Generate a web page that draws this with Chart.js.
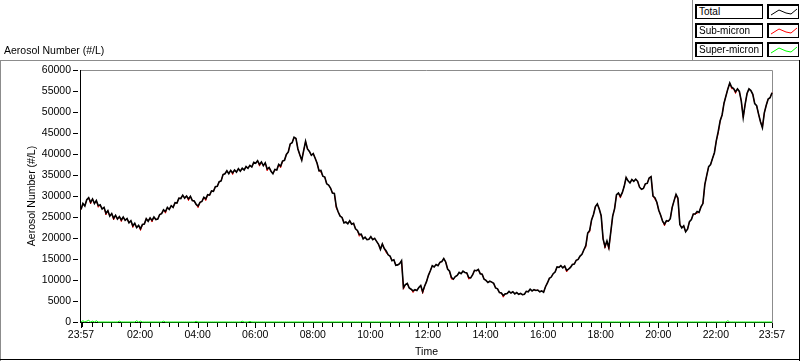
<!DOCTYPE html>
<html><head><meta charset="utf-8">
<script src="https://cdn.jsdelivr.net/npm/chart.js@4/dist/chart.umd.min.js"></script>
<style>
html,body{margin:0;padding:0;background:#fff;}
#wrap{position:relative;width:800px;height:361px;overflow:hidden;font-family:"Liberation Sans",Arial,sans-serif;font-size:10.5px;color:#000;}
#c{position:absolute;left:0;top:0;}
.ttl{position:absolute;left:4px;top:43px;line-height:14px;white-space:nowrap;}
.ln{position:absolute;}
.lt{position:absolute;left:695px;width:68px;height:15px;border:1px solid #000;box-shadow:inset 1px 1px 0 #000;box-sizing:border-box;background:#fff;padding-left:3px;line-height:13px;font-size:10px;white-space:nowrap;overflow:hidden;}
.ls{position:absolute;left:767px;width:32px;height:15px;border:1px solid #000;box-shadow:inset 1px 1px 0 #000;box-sizing:border-box;background:#fff;}
.ls svg{position:absolute;left:0;top:0;}
</style>
</head><body>
<div id="wrap">
<canvas id="c" width="800" height="361"></canvas>
<div class="ln" style="left:0;top:60px;width:800px;height:1px;background:#8c8c8c"></div>
<div class="ln" style="left:0;top:60px;width:1px;height:301px;background:#8c8c8c"></div>
<div class="ln" style="left:0;top:359px;width:800px;height:1px;background:#000"></div>
<div class="ln" style="left:799px;top:60px;width:1px;height:301px;background:#000"></div>
<div class="ln" style="left:692px;top:0;width:1px;height:61px;background:#8c8c8c"></div>
<div class="ttl">Aerosol Number (#/L)</div>
<div id="legend"></div>
</div>
<script>
const seriesNames = ['Total', 'Sub-micron', 'Super-micron'];
const seriesColors = ['#000000', '#ff0000', '#00ff00'];
const startClock = '23:57';
const stepMinutes = 4;
const xTickMinutes = [0, 123, 243, 363, 483, 603, 723, 843, 963, 1083, 1203, 1323, 1440];
const xTickLabels = ['23:57', '02:00', '04:00', '06:00', '08:00', '10:00', '12:00', '14:00', '16:00', '18:00', '20:00', '22:00', '23:57'];
const yTickValues = [0, 5000, 10000, 15000, 20000, 25000, 30000, 35000, 40000, 45000, 50000, 55000, 60000];

const total = [
26800,28200,27600,29100,29600,28500,29300,28200,28900,27700,
27900,26900,27300,25900,26500,25200,25800,24700,25400,24500,
25100,24300,25000,24200,24600,23600,24100,22900,23500,22500,
23000,22200,23200,23300,24600,24000,24800,24200,25000,24400,
24500,25600,25800,26700,26300,27300,26800,27700,27300,28400,
28300,29500,29400,30200,29500,30000,29300,29900,28900,28800,
28000,27600,28500,28700,29700,29300,30300,30200,31200,31100,
32200,32300,33400,33600,35100,35300,36000,35300,36100,35500,
36200,35700,36500,35900,36600,36200,37000,36600,37300,36900,
38000,37800,38400,37500,38100,37200,37900,36400,36800,35900,
35300,36300,36200,37500,37100,38300,38500,39900,40500,42400,
42700,44000,43700,41200,39800,38500,40800,43000,41200,40600,
39700,40100,39000,37800,36000,36100,34700,34500,32900,32600,
31900,30700,30600,27500,26200,25200,24900,23600,23800,23400,
24100,23300,23500,22200,21800,20800,20900,19800,20200,19600,
19700,20300,19600,19900,19200,18500,17300,18600,17500,16900,
16000,15700,14600,14800,13500,13600,13900,14600,8200,8900,
9200,8100,7800,7400,7700,7500,8200,8700,7200,8500,
9600,11100,12200,13400,13100,13700,13400,14200,14400,15100,
14300,12600,12100,10600,10200,10800,11100,11800,11500,12100,
11800,11700,10600,10500,11200,12300,12200,12500,11500,11400,
10200,9900,9400,9700,9500,9200,8100,7900,7000,6900,
6300,6700,6800,7300,6900,7200,6700,7000,6600,6800,
6500,6600,7300,7200,7800,7400,7700,7500,7600,7200,
7400,7100,8400,9300,10400,10700,11500,11900,13100,13000,
13400,12900,13300,12300,12600,13000,13700,13800,14700,14900,
15700,16100,17200,18200,21200,21800,24300,25600,27500,28100,
26900,25300,19800,18000,19300,17700,21400,25200,27000,30300,
30700,29900,30800,32300,34400,33600,33100,33900,33500,34000,
33500,32100,31600,31800,32900,33000,34300,34600,30000,29600,
28500,26600,25400,24000,23300,24100,24000,24600,27300,28900,
30400,29500,23200,22400,22900,21500,22100,23900,24400,25700,
25700,26300,26100,27400,28200,32700,34900,37000,37500,38900,
40300,43200,45400,47900,49300,52100,53800,55500,56900,55900,
55600,54800,55500,54900,52600,48700,51800,54400,55500,55100,
54200,52000,51500,49500,47700,46300,49800,51600,53100,53400,54600
];

const subMicron = [
26800,28200,27600,29100,29600,28100,29300,28200,28900,27300,
27900,26900,27300,25500,26500,25200,25800,24300,25400,24500,
25100,23900,25000,24200,24600,23600,24100,22500,23500,22500,
23000,21800,23200,23300,24600,24000,24800,23800,25000,24400,
24500,25600,25800,26700,25900,27300,26800,27700,27300,28400,
28300,29500,29400,30200,29500,30000,28900,29900,28900,28800,
28000,27200,28500,28700,29700,28900,30300,30200,31200,31100,
32200,32300,33400,33600,35100,35300,36000,35300,36100,35100,
36200,35700,36500,35900,36600,36200,37000,36600,37300,36900,
38000,37800,38400,37100,38100,37200,37900,36000,36800,35900,
35300,36300,36200,37500,36700,38300,38500,39900,40500,42400,
42700,44000,43700,41200,39800,38500,40800,43000,41200,40600,
39700,40100,39000,37800,36000,35700,34700,34500,32900,32600,
31900,30700,30600,27100,26200,25200,24900,23600,23800,23400,
24100,23300,23500,22200,21800,20400,20900,19800,20200,19600,
19700,20300,19600,19900,19200,18500,17300,18600,17500,16500,
16000,15700,14600,14800,13500,13600,13900,14600,7800,8900,
9200,8100,7800,7000,7700,7500,8200,8700,6800,8500,
9600,11100,12200,13400,13100,13700,13400,14200,14400,15100,
14300,12600,12100,10200,10200,10800,11100,11800,11500,12100,
11800,11700,10200,10500,11200,12300,12200,12500,11500,11400,
10200,9900,9400,9700,9500,9200,8100,7900,7000,6900,
5900,6700,6800,7300,6900,7200,6700,7000,6600,6800,
6500,6600,7300,7200,7800,7400,7700,7500,7600,7200,
7400,7100,8400,9300,10400,10700,11500,11900,13100,13000,
13400,12900,13300,11900,12600,13000,13700,13800,14700,14900,
15700,16100,17200,17800,21200,21400,24300,25600,27500,28100,
26900,25300,19800,17600,19300,17300,21400,25200,27000,30300,
30700,29500,30800,32300,34400,33600,33100,33900,33500,34000,
33500,32100,31600,31800,32900,33000,34300,34600,30000,29200,
28500,26600,25400,24000,22900,24100,24000,24600,27300,28900,
30400,29100,23200,22400,22900,21500,22100,23900,24400,25700,
25700,25900,26100,27400,28200,32700,34900,37000,37500,38900,
40300,43200,45000,47900,49300,52100,53800,55500,56900,55500,
55600,54400,55500,54900,52600,48700,51800,54400,55500,55100,
54200,52000,51500,49500,47700,46300,49800,51600,53100,53400,54600
];

const superMicron = [
0,300,0,200,400,0,200,0,300,0,0,0,0,0,0,0,0,0,0,0,
200,0,0,0,0,0,0,0,0,300,0,200,0,0,0,0,0,0,0,0,
0,0,0,200,0,0,0,0,0,0,0,0,0,0,0,0,0,0,0,0,
150,0,0,0,0,0,0,0,0,0,0,0,0,0,0,0,0,0,0,0,
0,0,0,0,200,0,0,0,150,0,0,0,0,0,0,0,0,0,0,0,
0,0,0,0,0,0,0,0,0,0,0,0,0,0,0,0,0,0,0,0,
0,0,0,0,0,0,0,0,0,0,0,0,0,0,0,0,0,0,0,0,
0,0,0,0,0,0,0,0,0,0,0,0,0,0,0,0,0,0,0,0,
0,0,0,0,0,0,0,0,0,0,0,0,0,0,0,0,0,0,0,0,
0,0,0,0,0,0,0,0,0,0,0,0,0,0,0,0,0,0,0,0,
0,0,0,0,0,0,0,0,0,0,0,0,0,0,0,0,0,0,0,0,
0,0,0,0,0,0,0,0,0,0,0,0,0,0,0,0,0,0,0,0,
0,0,0,0,0,0,0,0,0,0,0,0,0,0,0,0,0,0,0,0,
0,0,0,0,0,0,0,0,0,0,0,0,0,0,0,0,0,0,0,0,
0,0,0,0,0,0,0,0,0,0,0,0,0,0,0,0,0,0,0,0,
0,0,0,0,0,0,0,0,0,0,0,0,0,0,0,0,0,0,0,0,
0,0,0,0,0,0,0,0,0,0,0,0,0,0,0,0,0,300,0,0,
0,0,0,0,0,0,0,0,0,0,0,0,0,0,0,0,0,0,0,0,
0
];

const FONT = {family: '"Liberation Sans", Arial, sans-serif', size: 10.5};

// legend (HTML text)
const legendEl = document.getElementById('legend');
const rowTops = [4, 23, 42];
seriesNames.forEach((name, k) => {
  const t = document.createElement('div');
  t.className = 'lt'; t.style.top = rowTops[k] + 'px'; t.textContent = name;
  legendEl.appendChild(t);
  const s = document.createElement('div');
  s.className = 'ls'; s.style.top = rowTops[k] + 'px';
  s.innerHTML = '<svg width="32" height="15"><polyline points="3,10 11,5 18,8 23,9 29,4" fill="none" stroke="' + seriesColors[k] + '" stroke-width="1"/></svg>';
  legendEl.appendChild(s);
});

function toPoints(arr) { return arr.map((v, i) => ({x: i * stepMinutes, y: v})); }

const framePlugin = {
  id: 'frame',
  beforeDatasetsDraw(chart) {
    const {ctx, chartArea: a, scales: {x, y}} = chart;
    ctx.save();
    ctx.lineWidth = 1;
    ctx.strokeStyle = '#8c8c8c';
    ctx.beginPath();
    ctx.moveTo(a.left, a.top + 0.5);
    ctx.lineTo(a.right + 0.5, a.top + 0.5);
    ctx.lineTo(a.right + 0.5, a.bottom + 1);
    ctx.stroke();
    ctx.strokeStyle = '#000';
    ctx.beginPath();
    ctx.moveTo(a.left - 0.5, a.top);
    ctx.lineTo(a.left - 0.5, a.bottom + 1);
    ctx.moveTo(a.left - 1, a.bottom + 0.5);
    ctx.lineTo(a.right, a.bottom + 0.5);
    ctx.stroke();
    ctx.beginPath();
    yTickValues.forEach(v => {
      const py = Math.round(y.getPixelForValue(v)) + 0.5;
      ctx.moveTo(a.left - 8, py); ctx.lineTo(a.left - 3, py);
    });
    const minor = [0];
    for (let m = 3; m < 1440; m += 20) minor.push(m);
    minor.forEach(m => {
      const px = Math.round(x.getPixelForValue(m)) + 0.5;
      ctx.moveTo(px, a.bottom + 1); ctx.lineTo(px, a.bottom + 5);
    });
    xTickMinutes.forEach(m => {
      const px = Math.round(x.getPixelForValue(m)) + 0.5;
      ctx.moveTo(px, a.bottom + 1); ctx.lineTo(px, a.bottom + 6);
    });
    ctx.stroke();
    ctx.restore();
  }
};

const dsBase = {pointRadius: 0, tension: 0, clip: 3, fill: false};
new Chart(document.getElementById('c').getContext('2d'), {
  type: 'line',
  data: {
    datasets: [
      Object.assign({label: seriesNames[0], data: toPoints(total), borderColor: seriesColors[0], borderWidth: 1.6}, dsBase),
      Object.assign({label: seriesNames[1], data: toPoints(subMicron), borderColor: seriesColors[1], borderWidth: 1}, dsBase),
      Object.assign({label: seriesNames[2], data: toPoints(superMicron), borderColor: seriesColors[2], borderWidth: 1}, dsBase)
    ]
  },
  options: {
    responsive: false,
    animation: false,
    devicePixelRatio: 1,
    layout: {padding: {top: 70, right: 28, left: 0, bottom: 0}},
    plugins: {legend: {display: false}, tooltip: {enabled: false}, title: {display: false}},
    scales: {
      x: {
        type: 'linear', min: 0, max: 1440,
        grid: {display: false, drawTicks: false},
        border: {display: false},
        afterBuildTicks: s => { s.ticks = xTickMinutes.map(v => ({value: v})); },
        afterFit: s => { s.height = 39; },
        ticks: {
          autoSkip: false, maxRotation: 0, minRotation: 0, padding: 7, color: '#000', font: FONT,
          callback: (v) => { const k = xTickMinutes.indexOf(v); return k >= 0 ? xTickLabels[k] : ''; }
        },
        title: {display: true, text: 'Time', color: '#000', font: FONT, padding: {top: 0, bottom: 3}}
      },
      y: {
        min: 0, max: 60000,
        grid: {display: false, drawTicks: false},
        border: {display: false},
        afterBuildTicks: s => { s.ticks = yTickValues.map(v => ({value: v})); },
        afterFit: s => { s.width = 81; },
        ticks: {padding: 10, color: '#000', font: FONT, callback: v => String(v)},
        title: {display: true, text: 'Aerosol Number (#/L)', color: '#000', font: FONT, padding: {top: 26, bottom: 0}}
      }
    }
  },
  plugins: [framePlugin]
});
</script>
</body></html>
